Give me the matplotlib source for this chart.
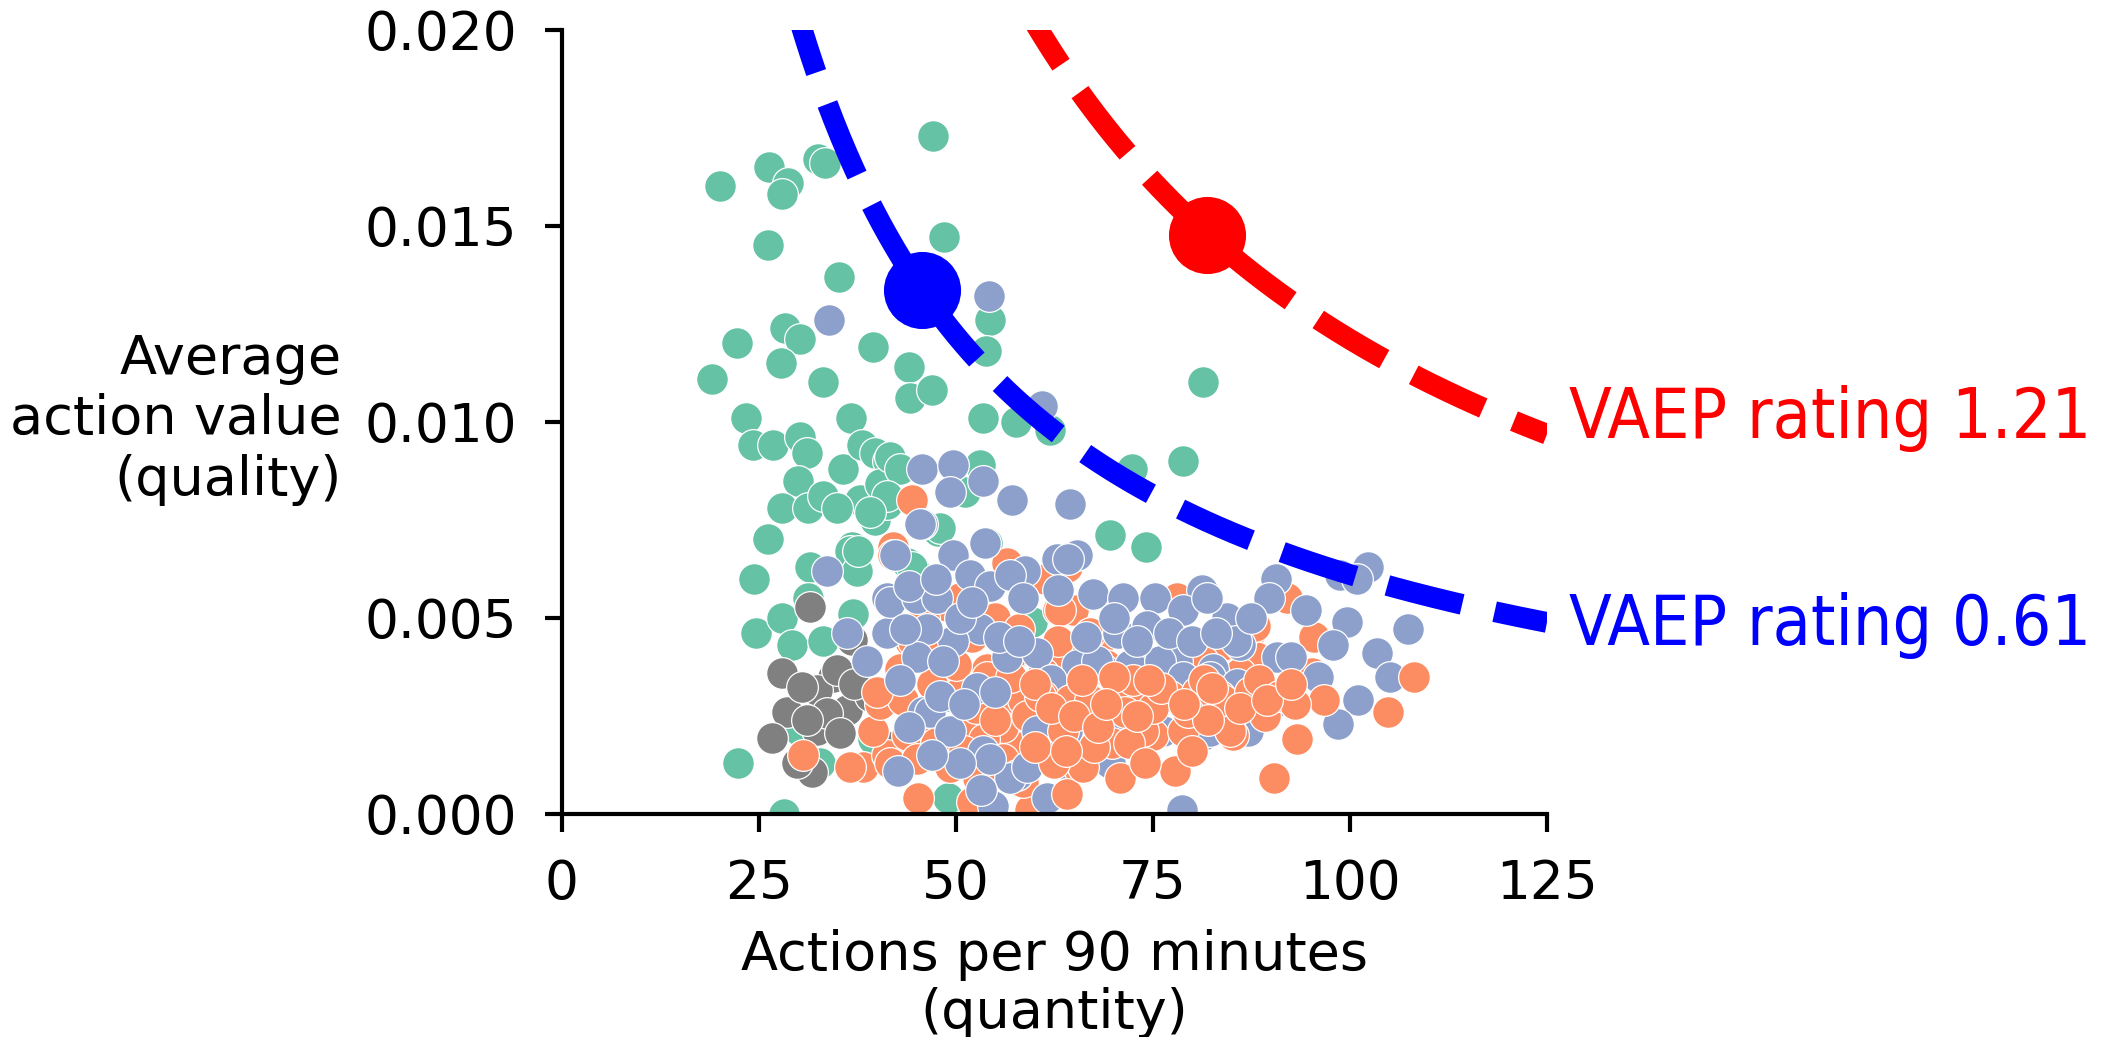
import numpy as np
import matplotlib
matplotlib.use("Agg")
import matplotlib.pyplot as plt

# players per position: actions per 90 min (x) and average action value (y)
green_x = [20.1, 26.3, 28.7, 27.9, 32.5, 33.4, 47.1, 26.1, 35.2, 48.5,
           22.2, 28.3, 30.2, 27.8, 39.5, 19.0, 33.1, 44.0, 44.2, 47.0,
           23.4, 36.7, 54.3, 53.8, 81.3, 53.4, 57.6, 61.9, 72.3, 78.8,
           69.5, 74.1, 24.2, 26.8, 30.2, 31.1, 30.0, 27.9, 31.2, 33.1,
           35.7, 38.1, 39.7, 41.4, 37.8, 39.7, 41.2, 34.9, 40.4, 36.8,
           37.6, 31.5, 26.1, 24.4, 24.6, 27.9, 29.2, 31.2, 36.9, 53.0,
           51.1, 47.7, 53.9, 43.8, 44.8, 48.0, 44.4, 36.5, 37.4, 22.3,
           28.2, 49.0, 39.5, 44.2, 32.7, 30.2, 33.1, 59.6, 61.7, 48.9,
           41.6, 42.9, 41.2, 39.1, 37.6]
green_y = [0.0160, 0.0165, 0.0161, 0.0158, 0.0167, 0.0166, 0.0173, 0.0145, 0.0137, 0.0147,
           0.0120, 0.0124, 0.0121, 0.0115, 0.0119, 0.0111, 0.0110, 0.0114, 0.0106, 0.0108,
           0.0101, 0.0101, 0.0126, 0.0118, 0.0110, 0.0101, 0.0100, 0.0098, 0.0088, 0.0090,
           0.0071, 0.0068, 0.0094, 0.0094, 0.0096, 0.0092, 0.0085, 0.0078, 0.0078, 0.0081,
           0.0088, 0.0094, 0.0092, 0.0090, 0.0080, 0.0075, 0.0079, 0.0078, 0.0084, 0.0068,
           0.0062, 0.0063, 0.0070, 0.0060, 0.0046, 0.0050, 0.0043, 0.0055, 0.0051, 0.0089,
           0.0082, 0.0072, 0.0069, 0.0064, 0.0062, 0.0073, 0.0063, 0.0067, 0.0062, 0.0013,
           0.0000, 0.0004, 0.0019, 0.0021, 0.0013, 0.0021, 0.0044, 0.0049, 0.0019, 0.0030,
           0.0091, 0.0088, 0.0081, 0.0077, 0.0067]

grey_x = [31.5, 36.8, 27.9, 28.6, 26.6, 31.7, 29.8, 34.4, 38.7, 32.4,
          36.2, 32.4, 41.6, 41.2, 30.5, 34.9, 33.6, 35.3, 39.1, 37.0, 31.1]
grey_y = [0.00527, 0.00443, 0.00359, 0.00260, 0.00193, 0.00107, 0.00129, 0.00349, 0.00308, 0.00316,
          0.00264, 0.00213, 0.00170, 0.00290, 0.00323, 0.00367, 0.00257, 0.00206, 0.00300, 0.00330, 0.00239]

orange_x = [44.4, 42.0, 56.5, 61.5, 64.1, 61.3, 62.9, 64.8, 68.7, 78.0,
            78.8, 57.5, 62.3, 84.8, 83.9, 87.3, 88.1, 92.0, 95.2, 96.7,
            104.8, 108.1, 93.3, 90.4, 89.2, 85.2, 85.2, 83.5, 83.9, 84.8,
            77.8, 70.8, 65.5, 64.1, 59.4, 75.0, 69.8, 57.7, 45.2, 52.8,
            38.2, 41.2, 30.6, 36.5, 41.6, 39.5, 40.4, 44.2, 43.8, 48.9,
            50.5, 44.5, 42.9, 48.0, 63.2, 67.0, 57.2, 56.0, 58.5, 61.0,
            64.5, 67.0, 70.4, 73.7, 77.2, 80.6, 83.9, 87.3, 56.0, 51.8,
            47.1, 45.0, 49.2, 63.6, 66.1, 73.7, 78.8, 86.5, 81.3, 66.1,
            53.9, 50.5, 46.3, 43.3, 40.0, 60.7, 54.0, 52.0, 55.0, 58.0,
            60.0, 62.0, 66.0, 69.0, 71.5, 72.5, 75.0, 76.0, 79.5, 81.5,
            82.0, 86.0, 88.5, 91.0, 93.0, 52.0, 55.5, 58.5, 62.5, 67.5,
            72.0, 74.0, 80.0, 47.5, 53.5, 42.0,
            47.0, 50.0, 52.5, 55.0, 57.0, 59.0, 61.0, 63.0, 65.0, 68.0,
            70.0, 73.0, 76.0, 79.0, 82.5, 86.0, 89.5, 92.5, 95.5, 46.0,
            51.0, 56.0, 60.0, 64.0, 69.0, 74.5, 78.0, 88.0]
orange_y = [0.0080, 0.0068, 0.0064, 0.0060, 0.0063, 0.0060, 0.0052, 0.0052, 0.0045, 0.0055,
            0.0044, 0.0041, 0.0039, 0.0043, 0.0043, 0.0046, 0.0040, 0.0055, 0.0036, 0.0029,
            0.0026, 0.0035, 0.0019, 0.0009, 0.0025, 0.0020, 0.0027, 0.0030, 0.0027, 0.0021,
            0.0011, 0.0009, 0.0012, 0.0005, 0.0001, 0.0020, 0.0018, 0.0017, 0.0004, 0.0009,
            0.0012, 0.0015, 0.0015, 0.0012, 0.0013, 0.0021, 0.0028, 0.0044, 0.0020, 0.0053,
            0.0055, 0.0044, 0.0037, 0.0041, 0.0052, 0.0046, 0.0041, 0.0029, 0.0029, 0.0030,
            0.0029, 0.0029, 0.0031, 0.0029, 0.0030, 0.0031, 0.0029, 0.0031, 0.0022, 0.0021,
            0.0021, 0.0014, 0.0012, 0.0021, 0.0012, 0.0021, 0.0021, 0.0046, 0.0039, 0.0043,
            0.0037, 0.0031, 0.0026, 0.0029, 0.0031, 0.0030, 0.0035, 0.0045, 0.0050, 0.0047,
            0.0033, 0.0027, 0.0034, 0.0038, 0.0026, 0.0034, 0.0027, 0.0037, 0.0026, 0.0034,
            0.0024, 0.0036, 0.0034, 0.0030, 0.0028, 0.0003, 0.0012, 0.0008, 0.0013, 0.0017,
            0.0018, 0.0013, 0.0016, 0.0018, 0.0019, 0.0066,
            0.0033, 0.0038, 0.0027, 0.0024, 0.0035, 0.0025, 0.0036, 0.0044, 0.0025, 0.0022,
            0.0035, 0.0025, 0.0032, 0.0028, 0.0032, 0.0027, 0.0029, 0.0033, 0.0045, 0.0050,
            0.0016, 0.0014, 0.0017, 0.0016, 0.0028, 0.0034, 0.0046, 0.0048]

blue_x = [33.9, 54.2, 60.9, 57.1, 64.5, 45.7, 49.6, 53.4, 49.2, 45.7,
          45.4, 53.7, 49.6, 42.3, 33.6, 65.4, 62.8, 64.2, 58.8, 67.4,
          71.2, 75.2, 81.2, 84.4, 78.8, 86.0, 70.6, 74.2, 78.0, 68.7,
          74.2, 82.6, 68.9, 72.1, 69.5, 81.3, 78.7, 61.5, 57.7, 62.8,
          90.6, 89.7, 94.4, 98.7, 102.3, 100.9, 99.6, 97.9, 107.4, 103.4,
          105.1, 101.0, 98.5, 95.9, 90.7, 90.1, 87.1, 81.8, 85.6, 82.2,
          82.2, 36.2, 41.2, 41.2, 38.7, 42.6, 45.8, 41.6, 56.9, 54.7,
          45.0, 47.6, 51.8, 54.3, 56.9, 58.5, 53.0, 49.6, 46.3, 45.0,
          48.4, 42.9, 46.7, 52.7, 49.2, 53.4, 54.3, 56.5, 60.3, 65.4,
          67.9, 72.1, 75.9, 78.8, 68.7, 71.2, 64.1, 60.3, 85.7, 76.3,
          61.9, 63.0, 53.2, 50.5,
          44.0, 47.5, 50.5, 52.0, 55.5, 43.5, 48.0, 51.0, 55.0, 58.0,
          62.0, 66.5, 70.0, 73.0, 77.0, 80.0, 83.0, 87.5, 92.5, 63.5,
          59.0, 47.0, 44.0]
blue_y = [0.0126, 0.0132, 0.0104, 0.0080, 0.0079, 0.0088, 0.0089, 0.0085, 0.0082, 0.0074,
          0.0074, 0.0069, 0.0066, 0.0066, 0.0062, 0.0066, 0.0065, 0.0065, 0.0062, 0.0056,
          0.0055, 0.0055, 0.0057, 0.0050, 0.0052, 0.0043, 0.0046, 0.0048, 0.0039, 0.0037,
          0.0037, 0.0037, 0.0024, 0.0023, 0.0013, 0.0020, 0.0001, 0.0004, 0.0010, 0.0021,
          0.0060, 0.0055, 0.0052, 0.0061, 0.0063, 0.0060, 0.0049, 0.0043, 0.0047, 0.0041,
          0.0035, 0.0029, 0.0023, 0.0035, 0.0040, 0.0028, 0.0021, 0.0055, 0.0044, 0.0035,
          0.0021, 0.0046, 0.0055, 0.0046, 0.0039, 0.0011, 0.0026, 0.0054, 0.0009, 0.0002,
          0.0055, 0.0055, 0.0061, 0.0058, 0.0061, 0.0055, 0.0047, 0.0044, 0.0047, 0.0040,
          0.0039, 0.0034, 0.0026, 0.0032, 0.0021, 0.0016, 0.0014, 0.0040, 0.0041, 0.0038,
          0.0039, 0.0038, 0.0039, 0.0035, 0.0024, 0.0021, 0.0021, 0.0021, 0.0033, 0.0021,
          0.0029, 0.0057, 0.0006, 0.0013,
          0.0058, 0.0060, 0.0050, 0.0054, 0.0045, 0.0047, 0.0030, 0.0028, 0.0031, 0.0044,
          0.0034, 0.0045, 0.0050, 0.0044, 0.0046, 0.0044, 0.0046, 0.0050, 0.0040, 0.0013,
          0.0012, 0.0015, 0.0022]

# two highlighted players and their VAEP rating (= quantity * quality)
ratings = [1.21, 0.61]
star_x = [81.9, 45.7]
curve_colors = ["red", "blue"]

fig = plt.figure(figsize=(2107 / 300, 1037 / 300), dpi=300)
ax = fig.add_axes([0.2667, 0.2153, 0.4675, 0.7561])

pt = dict(s=58, edgecolors="white", linewidths=0.3)
ox = np.array(orange_x)
oy = np.array(orange_y)
# blue mostly on top, except the orange band at the lower right
top = (ox >= 60) & (oy < 0.0036)
ax.scatter(green_x, green_y, color="#66c2a5", **pt)
ax.scatter(grey_x, grey_y, color="#808080", **pt)
ax.scatter(ox[~top], oy[~top], color="#fc8d62", **pt)
ax.scatter(blue_x, blue_y, color="#8da0cb", **pt)
ax.scatter(ox[top], oy[top], color="#fc8d62", **pt)

xs = np.linspace(10, 125, 400)
for r, sx, c in zip(ratings, star_x, curve_colors):
    ax.plot(xs, r / xs, "--", color=c, lw=5)
    ax.plot(sx, r / sx, "o", color=c, markersize=17.5)
    ax.text(127.8, r / 125 + (0.0004 if r > 1 else -0.00008), "VAEP rating %.2f" % r,
            color=c, fontsize=16.7, family="DejaVu Sans", stretch="condensed",
            ha="left", va="center", clip_on=False)

ax.set_xlim(0, 125)
ax.set_ylim(0, 0.02)
ax.set_xticks([0, 25, 50, 75, 100, 125])
ax.set_yticks([0, 0.005, 0.01, 0.015, 0.02])
ax.set_yticklabels(["0.000", "0.005", "0.010", "0.015", "0.020"])
ax.tick_params(labelsize=12.8, length=4.2, width=1, pad=6.5)
for s in ["top", "right"]:
    ax.spines[s].set_visible(False)
for s in ["left", "bottom"]:
    ax.spines[s].set_linewidth(1)

ax.set_xlabel("Actions per 90 minutes\n(quantity)", fontsize=13, labelpad=4.5,
              linespacing=1.15)
ax.set_ylabel("Average\naction value\n(quality)", fontsize=13, rotation=0,
              ha="right", va="center", multialignment="right", linespacing=1.2)
ax.yaxis.set_label_coords(-0.224, 0.503)

fig.savefig("out.png", dpi=300)
